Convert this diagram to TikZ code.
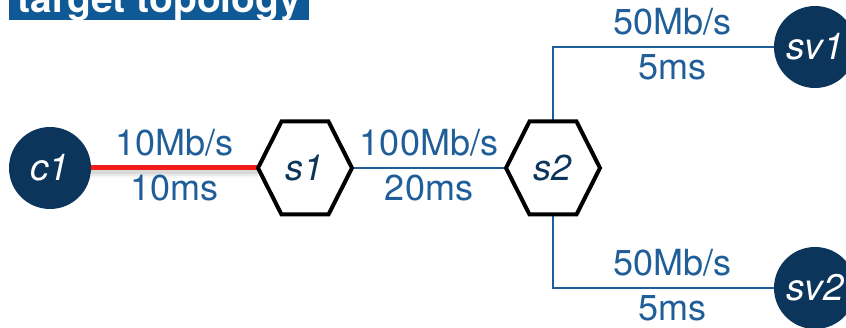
\documentclass[tikz,border=0pt]{standalone}
\usepackage{fontspec}
\setmainfont{TeX Gyre Heros}
\usetikzlibrary{calc}

\definecolor{navy}{HTML}{0B355A}
\definecolor{linkblue}{HTML}{1F5E99}
\definecolor{barblue}{HTML}{0F5A96}
\definecolor{hotred}{HTML}{F21C1C}

\begin{document}
\begin{tikzpicture}[x=1pt,y=-1pt,
        host/.style={circle,fill=navy,text=white,minimum size=82pt,inner sep=0pt,
            font=\fontsize{37}{42}\selectfont\itshape},
        switch/.style={circle,minimum size=93pt,inner sep=0pt,text=navy,
            font=\fontsize{36}{42}\selectfont\itshape},
        link/.style={linkblue,line width=2pt},
        hot link/.style={hotred,line width=5pt},
        rate/.style={anchor=base,yshift=12pt,text=linkblue,font=\fontsize{36}{42}\selectfont},
        delay/.style={anchor=base,yshift=-33pt,text=linkblue,font=\fontsize{36}{42}\selectfont}
    ]
    \useasboundingbox (0,0) rectangle (846,328);

    \node[fill=barblue,text=white,font=\fontsize{39}{44}\selectfont\bfseries,
        anchor=base west,inner xsep=8pt,inner ysep=0pt,text depth=7pt]
        (title) at (9,13) {target topology};

    \node[host] (c1) at (50,168) {c1};
    \node[switch] (s1) at (305,168) {s1};
    \node[switch] (s2) at (553,168) {s2};
    \node[host] (sv1) at (815,47) {sv1};
    \node[host] (sv2) at (815,288) {sv2};

    % soft shadow under the congested link
    \foreach \w/\o in {12/.03,8/.05,5/.07}
        \draw[black,opacity=\o,line width=\w pt] ([yshift=-4pt]c1.east) -- ([yshift=-4pt]s1.west);

    \draw[hot link] (c1) -- node[rate]{10Mb/s} node[delay]{10ms} (s1);
    \draw[link] (s1) -- node[rate]{100Mb/s} node[delay]{20ms} (s2);
    \draw[link] (s2) |- node[pos=.77,rate]{50Mb/s} node[pos=.77,delay]{5ms} (sv1);
    \draw[link] (s2) |- node[pos=.77,rate]{50Mb/s} node[pos=.77,delay]{5ms} (sv2);

    % switches as hexagons
    \foreach \s in {s1,s2}
        \draw[line width=4pt] ($(\s)+(-47,0)$) -- ($(\s)+(-23.5,-46.5)$)
            -- ($(\s)+(23.5,-46.5)$) -- ($(\s)+(47,0)$)
            -- ($(\s)+(23.5,46.5)$) -- ($(\s)+(-23.5,46.5)$) -- cycle;
\end{tikzpicture}
\end{document}
